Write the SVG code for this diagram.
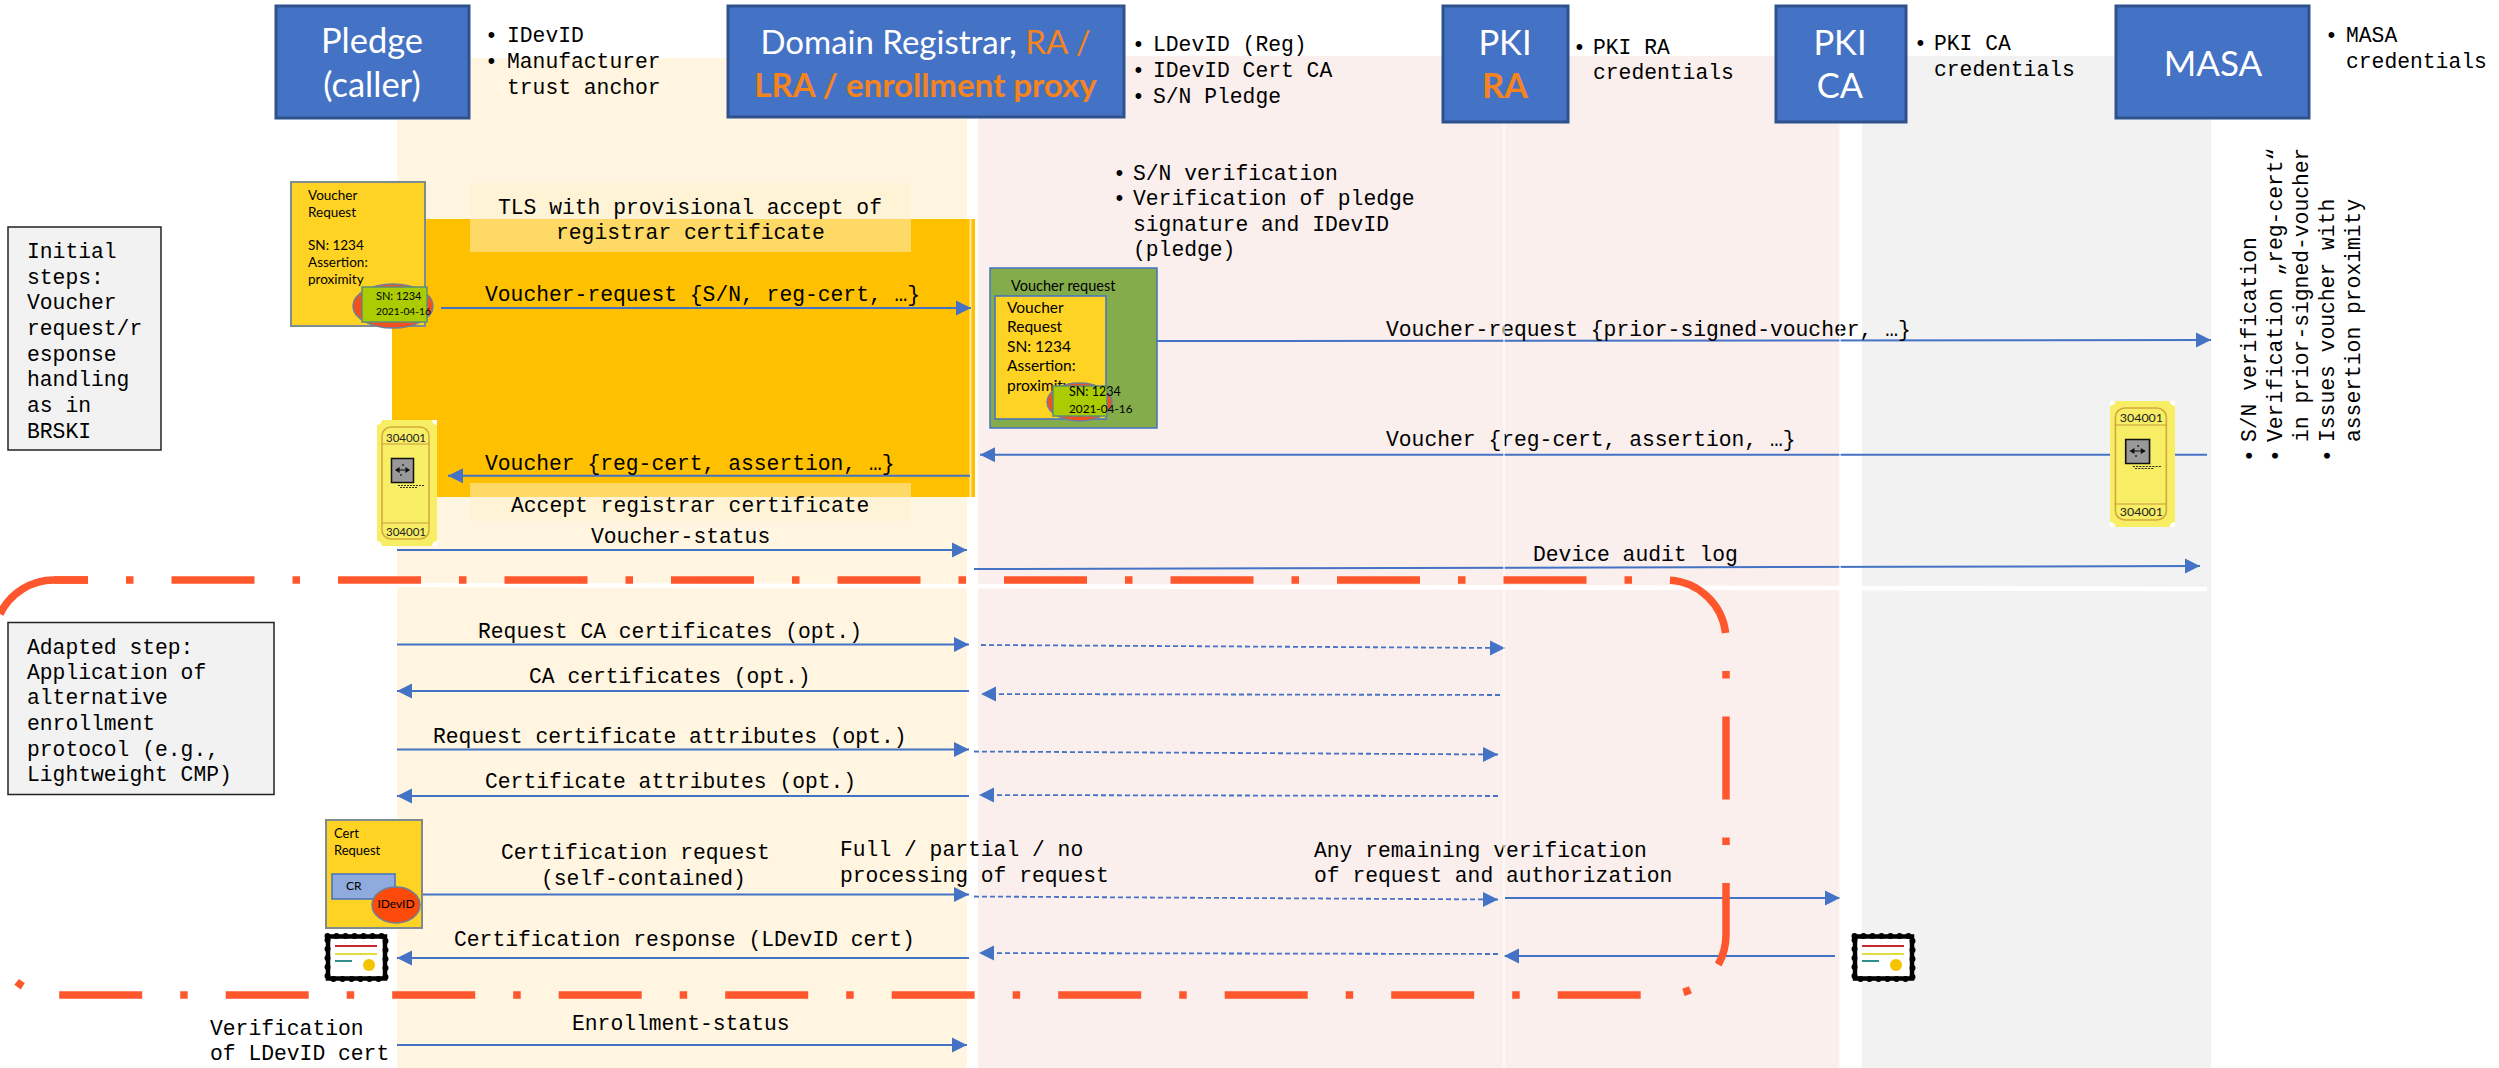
<svg xmlns="http://www.w3.org/2000/svg" width="2499" height="1068" viewBox="0 0 2499 1068">
<style>
text{fill:#000}
.m{font-family:"Liberation Mono",monospace;font-size:21.33px}
.h{font-family:Lato,"Liberation Sans",sans-serif;font-size:33px;fill:#fff;text-anchor:middle}
.h2{font-size:34.5px}
.b{font-weight:700;fill:#F5841F}
.o{fill:#F5841F}
.d{font-family:Lato,"Liberation Sans",sans-serif;fill:#222}
.hd{fill:#4472C4;stroke:#2F528F;stroke-width:3}
.note{fill:#F2F2F2;stroke:#222;stroke-width:1.5}
.doc{fill:#FFD324;stroke:#7F8B8F;stroke-width:2}
.red{fill:#F2501F;stroke:#6D7F9A;stroke-width:1.5}
.sig{fill:#AACC00;stroke:#5E8F78;stroke-width:1.5}
.a{fill:none;stroke:#4472C4;stroke-width:2}
.r{marker-end:url(#ah)}
.da{stroke-width:1.8;stroke-dasharray:5 3}
.life{stroke:#fff;stroke-width:1.2}
.bd{fill:none;stroke:#FF572D;stroke-width:7.5;stroke-dasharray:83 38 7.5 38}
.hl{fill:#FFF2CC;fill-opacity:.5}
</style>
<defs>
<marker id="ah" markerUnits="userSpaceOnUse" markerWidth="16" markerHeight="16" refX="15" refY="8" orient="auto"><path d="M0 0.5L15 8L0 15.5Z" fill="#4472C4"/></marker>
<symbol id="ticket" viewBox="0 0 60 126" preserveAspectRatio="none">
<rect width="60" height="126" fill="#fff"/>
<path d="M5 0H55A5 5 0 0 0 60 5V121A5 5 0 0 0 55 126H5A5 5 0 0 0 0 121V5A5 5 0 0 0 5 0Z" fill="#F7EE66"/>
<rect x="5" y="7" width="47" height="112" rx="9" fill="none" stroke="#D4A93C" stroke-width="1.5"/>
<path d="M5 24H52M5 103H52" stroke="#C99A3A" stroke-width="1.2"/>
<text x="29" y="21.500" text-anchor="middle" class="d" font-size="11.500">304001</text>
<text x="29" y="115.500" text-anchor="middle" class="d" font-size="11.500">304001</text>
<rect x="14.500" y="38.500" width="22" height="24" fill="#999" stroke="#111" stroke-width="1.500"/>
<path d="M19 50H32M26 44V46M24 54V56M19 50l3-2v4zM32 50l-3-2v4z" stroke="#111" stroke-width="1.200" fill="#111"/>
<path d="M21 65.500H47M23 67.500H41" stroke="#332" stroke-width="1.200" stroke-dasharray="2 1"/>
</symbol>
<symbol id="cert" viewBox="0 0 65 49">
<rect x="4" y="3.500" width="57" height="42" fill="#fff" stroke="#000" stroke-width="4.500"/>
<rect x="3.500" y="3" width="58" height="43" fill="none" stroke="#000" stroke-width="6" stroke-linecap="round" stroke-dasharray="0 9"/>
<path d="M11 13H53" stroke="#C8282E" stroke-width="2"/>
<path d="M11 21H53" stroke="#E2DC3C" stroke-width="2"/>
<path d="M11 28H28" stroke="#2F8F8A" stroke-width="2"/>
<circle cx="45" cy="32" r="6" fill="#F5C400"/>
</symbol>
</defs>
<rect width="2499" height="1068" fill="#fff"/>

<g id="lanes">
<rect x="397" y="58" width="570" height="1010" fill="#FFF5E0"/>
<rect x="978" y="56" width="862" height="1012" fill="#FAEFED"/>
<rect x="1862" y="56" width="349" height="1012" fill="#F2F2F2"/>
<path d="M397 585L2207 589" stroke="#fff" stroke-width="4.500" fill="none"/>
<rect x="392" y="219" width="583" height="278" fill="#FFC000"/>
<rect x="969.500" y="219" width="2" height="278" fill="#FFE9A8"/>
<rect class="hl" x="470" y="183" width="441" height="69"/>
<rect class="hl" x="470" y="483" width="441" height="38"/>
</g>

<g id="connectors">
<path class="a r" d="M441 308H971"/>
<path class="a r" d="M970 475.700H448"/>
<path class="a r" d="M397 550H967"/>
<path class="a r" d="M1157 341L2211 340"/>
<path class="a r" d="M2207 454.700H980"/>
<path class="a r" d="M974 569L2200 566"/>
<path class="a r" d="M397 644.500H969"/>
<path class="a r da" d="M981 645L1505 648"/>
<path class="a r" d="M969 691H397"/>
<path class="a r da" d="M1500 695L981 694"/>
<path class="a r" d="M397 749.500H969"/>
<path class="a r da" d="M974 751.500L1498 754.500"/>
<path class="a r" d="M969 796H397"/>
<path class="a r da" d="M1498 796L979 795"/>
<path class="a r" d="M421 894.500H969"/>
<path class="a r da" d="M974 896.500L1498 899.500"/>
<path class="a r" d="M1505 898H1840"/>
<path class="a r" d="M969 958H397"/>
<path class="a r da" d="M1498 954L979 953"/>
<path class="a r" d="M1835 956H1504"/>
<path class="a r" d="M397 1045H967"/>
</g>

<g id="labels" class="m">
<text x="498" y="213.500">TLS with provisional accept of</text>
<text x="556" y="239">registrar certificate</text>
<text x="485" y="300.500">Voucher-request {S/N, reg-cert, …}</text>
<text x="485" y="470">Voucher {reg-cert, assertion, …}</text>
<text x="511" y="512">Accept registrar certificate</text>
<text x="591" y="543">Voucher-status</text>
<text x="1386" y="336">Voucher-request {prior-signed-voucher, …}</text>
<text x="1386" y="446">Voucher {reg-cert, assertion, …}</text>
<text x="1533" y="561">Device audit log</text>
<text x="478" y="638">Request CA certificates (opt.)</text>
<text x="529" y="682.500">CA certificates (opt.)</text>
<text x="433" y="743">Request certificate attributes (opt.)</text>
<text x="485" y="787.500">Certificate attributes (opt.)</text>
<text x="501" y="859">Certification request</text>
<text x="541" y="884.500">(self-contained)</text>
<text x="840" y="856">Full / partial / no</text>
<text x="840" y="882">processing of request</text>
<text x="1314" y="856.500">Any remaining verification</text>
<text x="1314" y="881.500">of request and authorization</text>
<text x="454" y="946">Certification response (LDevID cert)</text>
<text x="210" y="1035">Verification</text>
<text x="210" y="1060">of LDevID cert</text>
<text x="572" y="1030">Enrollment-status</text>
</g>

<g id="lifelines">
<path class="life" d="M1504 122V1068M1840 122V1068"/>
</g>

<g id="node-pledge">
<rect class="hd" x="276" y="6" width="193" height="112"/>
<text class="h h2" x="372" y="53">Pledge</text>
<text class="h h2" x="372" y="97">(caller)</text>
<g class="m"><text x="485" y="42">•</text><text x="507" y="42">IDevID</text><text x="485" y="68">•</text><text x="507" y="68">Manufacturer</text><text x="507" y="93.500">trust anchor</text></g>
</g>

<g id="node-registrar">
<rect class="hd" x="728" y="6" width="396" height="111"/>
<text class="h" x="925.500" y="53.500">Domain Registrar, <tspan class="o">RA /</tspan></text>
<text class="h b" x="925.500" y="96.500">LRA / enrollment proxy</text>
<g class="m"><text x="1132" y="51">•</text><text x="1153" y="51">LDevID (Reg)</text><text x="1132" y="76.500">•</text><text x="1153" y="76.500">IDevID Cert CA</text><text x="1132" y="102.500">•</text><text x="1153" y="102.500">S/N Pledge</text></g>
</g>

<g id="node-pki-ra">
<rect class="hd" x="1443" y="6" width="125" height="116"/>
<text class="h h2" x="1505" y="55">PKI</text>
<text class="h h2 b" x="1505" y="98">RA</text>
<g class="m"><text x="1573" y="54">•</text><text x="1593" y="54">PKI RA</text><text x="1593" y="79">credentials</text></g>
</g>

<g id="node-pki-ca">
<rect class="hd" x="1776" y="6" width="130" height="116"/>
<text class="h h2" x="1840" y="55">PKI</text>
<text class="h h2" x="1840" y="98">CA</text>
<g class="m"><text x="1914" y="50">•</text><text x="1934" y="50">PKI CA</text><text x="1934" y="76">credentials</text></g>
</g>

<g id="node-masa">
<rect class="hd" x="2116" y="6" width="193" height="112"/>
<text class="h" x="2213" y="76" style="font-size:35px">MASA</text>
<g class="m"><text x="2325" y="42">•</text><text x="2346" y="42">MASA</text><text x="2346" y="68">credentials</text></g>
</g>

<g id="note-verification" class="m">
<text x="1113" y="180">•</text><text x="1133" y="180">S/N verification</text>
<text x="1113" y="205">•</text><text x="1133" y="205">Verification of pledge</text>
<text x="1133" y="231">signature and IDevID</text>
<text x="1133" y="256">(pledge)</text>
</g>

<g id="note-masa" class="m">
<text transform="translate(2255.500 456) rotate(-90)" x="-6">•</text><text transform="translate(2255.500 442) rotate(-90)">S/N verification</text>
<text transform="translate(2281.500 456) rotate(-90)" x="-6">•</text><text transform="translate(2281.500 442) rotate(-90)">Verification „reg-cert“</text>
<text transform="translate(2307.500 442) rotate(-90)">in prior-signed-voucher</text>
<text transform="translate(2333.500 456) rotate(-90)" x="-6">•</text><text transform="translate(2333.500 442) rotate(-90)">Issues voucher with</text>
<text transform="translate(2359.500 442) rotate(-90)">assertion proximity</text>
</g>

<g id="note-initial">
<rect class="note" x="8" y="227" width="153" height="223"/>
<g class="m"><text x="27" y="258">Initial</text><text x="27" y="284">steps:</text><text x="27" y="309">Voucher</text><text x="27" y="335">request/r</text><text x="27" y="361">esponse</text><text x="27" y="386">handling</text><text x="27" y="412">as in</text><text x="27" y="437.500">BRSKI</text></g>
</g>

<g id="note-adapted">
<rect class="note" x="8" y="622.500" width="266" height="172"/>
<g class="m"><text x="27" y="653.500">Adapted step:</text><text x="27" y="679">Application of</text><text x="27" y="704">alternative</text><text x="27" y="730">enrollment</text><text x="27" y="755.500">protocol (e.g.,</text><text x="27" y="781">Lightweight CMP)</text></g>
</g>

<g id="doc-voucher-request" class="d" font-size="13.500">
<rect class="doc" x="291" y="182" width="134" height="144"/>
<text x="308" y="200">Voucher</text><text x="308" y="216.500">Request</text><text x="308" y="250">SN: 1234</text><text x="308" y="267">Assertion:</text><text x="308" y="284">proximity</text>
<ellipse class="red" cx="393" cy="306" rx="40" ry="22"/>
<rect class="sig" x="362" y="287" width="65" height="35"/>
<text x="376" y="300" font-size="11">SN: 1234</text><text x="376" y="315" font-size="10.200">2021-04-16</text>
</g>

<g id="doc-voucher-request-signed" class="d" font-size="15.500">
<rect x="990" y="268" width="167" height="160" fill="#84AC4B" stroke="#4472C4" stroke-width="1.500"/>
<text x="1011" y="291" font-size="14.500">Voucher request</text>
<rect x="995" y="296" width="111" height="123" fill="#FFD324" stroke="#4472C4" stroke-width="1.500"/>
<text x="1007" y="313">Voucher</text><text x="1007" y="332">Request</text><text x="1007" y="352">SN: 1234</text><text x="1007" y="371">Assertion:</text><text x="1007" y="391">proximity</text>
<ellipse class="red" cx="1079.500" cy="402" rx="32.500" ry="19"/>
<rect class="sig" x="1053" y="386" width="54" height="30"/>
<text x="1069" y="396" font-size="12.500">SN: 1234</text><text x="1069" y="413" font-size="11.800">2021-04-16</text>
</g>

<g id="doc-cert-request" class="d">
<rect class="doc" x="326" y="820" width="96" height="108"/>
<text x="334" y="838" font-size="13">Cert</text><text x="334" y="855" font-size="13">Request</text>
<rect x="332" y="874" width="63" height="25" fill="#8FAADC" stroke="#4472C4" stroke-width="1.500"/>
<text x="346" y="890" font-size="12">CR</text>
<ellipse class="red" cx="396" cy="905" rx="24" ry="18" style="fill:#FC4A0A"/>
<text x="396" y="908" font-size="12" text-anchor="middle">IDevID</text>
</g>

<g id="ticket-pledge"><use href="#ticket" x="377" y="420" width="60" height="126"/></g>
<g id="ticket-masa"><use href="#ticket" x="2110" y="401" width="65" height="126"/></g>
<g id="cert-pledge"><use href="#cert" x="324" y="933" width="65" height="49"/></g>
<g id="cert-ca"><use href="#cert" x="1851" y="933" width="65" height="49"/></g>

<g id="boundary">
<path d="M0 614A60 60 0 0 1 54 580H88" fill="none" stroke="#FF572D" stroke-width="7.500"/>
<path class="bd" stroke-dashoffset="49" d="M54 580H1666A60 60 0 0 1 1726 640V935A60 60 0 0 1 1666 995"/>
<path class="bd" stroke-dashoffset="141.200" d="M1666 995H54A60 60 0 0 1 -6 935"/>
</g>
</svg>
